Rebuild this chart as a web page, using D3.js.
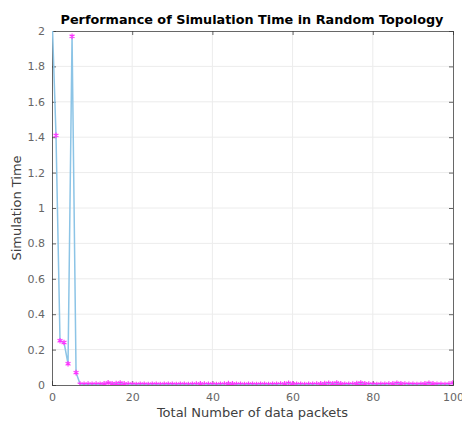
<!DOCTYPE html>
<html>
<head>
<meta charset="utf-8">
<script src="https://cdn.jsdelivr.net/npm/d3@7"></script>
<style>
  body { margin: 0; background: #fff; }
  svg { font-family: "DejaVu Sans", sans-serif; }
</style>
</head>
<body>
<svg width="462" height="425"></svg>
<script>
// packets 0..100 and the measured simulation time for each
const packets = d3.range(0, 101);
const simTime = [
  2.10, 1.41, 0.25, 0.24, 0.12, 1.97, 0.07, 0.005, 0.004, 0.005,
  0.004, 0.005, 0.004, 0.006, 0.012, 0.007, 0.008, 0.011, 0.006, 0.005,
  0.004, 0.003, 0.004, 0.004, 0.003, 0.004, 0.004, 0.003, 0.004, 0.004,
  0.004, 0.003, 0.004, 0.004, 0.003, 0.004, 0.005, 0.006, 0.005, 0.004,
  0.004, 0.003, 0.004, 0.005, 0.008, 0.006, 0.004, 0.004, 0.003, 0.004,
  0.004, 0.003, 0.004, 0.004, 0.003, 0.004, 0.004, 0.005, 0.006, 0.010,
  0.006, 0.004, 0.004, 0.003, 0.004, 0.004, 0.005, 0.006, 0.008, 0.010,
  0.007, 0.011, 0.006, 0.004, 0.004, 0.005, 0.008, 0.011, 0.007, 0.005,
  0.004, 0.003, 0.004, 0.004, 0.005, 0.006, 0.010, 0.007, 0.005, 0.004,
  0.004, 0.003, 0.004, 0.006, 0.010, 0.006, 0.004, 0.004, 0.003, 0.005,
  0.012
];
const xTicks = [0, 20, 40, 60, 80, 100];
const yTicks = [0, 0.2, 0.4, 0.6, 0.8, 1, 1.2, 1.4, 1.6, 1.8, 2];

var svg = d3.select("svg");
var margin = {left: 52, right: 9, top: 31, bottom: 40};
var width = 462, height = 425;

var x = d3.scaleLinear().domain([0, 100]).range([margin.left, width - margin.right]);
var y = d3.scaleLinear().domain([0, 2]).range([height - margin.bottom, margin.top]);

var data = packets.map((p, i) => ({p: p, t: simTime[i]}));

svg.append("clipPath").attr("id", "clip")
  .append("rect")
  .attr("x", x(0)).attr("y", y(2))
  .attr("width", x(100) - x(0)).attr("height", y(0) - y(2));

// grid
svg.append("g").selectAll("line").data(xTicks.slice(1, -1)).enter().append("line")
  .attr("x1", d => x(d)).attr("x2", d => x(d))
  .attr("y1", y(0)).attr("y2", y(2))
  .attr("stroke", "#ececec").attr("stroke-width", 1);
svg.append("g").selectAll("line").data(yTicks.slice(1, -1)).enter().append("line")
  .attr("x1", x(0)).attr("x2", x(100))
  .attr("y1", d => y(d)).attr("y2", d => y(d))
  .attr("stroke", "#ececec").attr("stroke-width", 1);

// axes
var xAxis = svg.append("g")
  .attr("transform", `translate(0,${y(0)})`)
  .call(d3.axisBottom(x).tickValues(xTicks).tickSize(-4).tickPadding(8));
var yAxis = svg.append("g")
  .attr("transform", `translate(${x(0)},0)`)
  .call(d3.axisLeft(y).tickValues(yTicks).tickSize(-4).tickPadding(7).tickFormat(d3.format("~g")));
var xTop = svg.append("g")
  .attr("transform", `translate(0,${y(2)})`)
  .call(d3.axisTop(x).tickValues(xTicks).tickSize(-4).tickFormat(""));
var yRight = svg.append("g")
  .attr("transform", `translate(${x(100)},0)`)
  .call(d3.axisRight(y).tickValues(yTicks).tickSize(-4).tickFormat(""));

[xAxis, yAxis, xTop, yRight].forEach(a => {
  a.selectAll("path, line").attr("stroke", "#404040").attr("stroke-width", 0.8);
  a.selectAll("text").attr("fill", "#666").style("font-size", "11px").style("font-family", "DejaVu Sans, sans-serif");
});

// the series
var g = svg.append("g").attr("clip-path", "url(#clip)");
g.append("path")
  .datum(data)
  .attr("fill", "none")
  .attr("stroke", "#8cc4e6")
  .attr("stroke-width", 1.5)
  .attr("d", d3.line().x(d => x(d.p)).y(d => y(d.t)));

var star = d3.symbol().type(d3.symbolAsterisk || d3.symbolCross).size(22);
g.selectAll(".mk").data(data).enter().append("path")
  .attr("class", "mk")
  .attr("transform", d => `translate(${x(d.p)},${y(d.t)})`)
  .attr("d", star)
  .attr("fill", "none")
  .attr("stroke", "#ff33ff")
  .attr("stroke-width", 1.2);

// labels
svg.append("text")
  .attr("x", 252).attr("y", 24)
  .attr("text-anchor", "middle")
  .style("font-size", "12.8px").style("font-weight", "bold")
  .attr("fill", "#000")
  .text("Performance of Simulation Time in Random Topology");

svg.append("text")
  .attr("x", (x(0) + x(100)) / 2).attr("y", 417)
  .attr("text-anchor", "middle")
  .style("font-size", "13px").attr("fill", "#404040")
  .text("Total Number of data packets");

svg.append("text")
  .attr("transform", `translate(21,${(y(0) + y(2)) / 2}) rotate(-90)`)
  .attr("text-anchor", "middle")
  .style("font-size", "13px").attr("fill", "#404040")
  .text("Simulation Time");
</script>
</body>
</html>
